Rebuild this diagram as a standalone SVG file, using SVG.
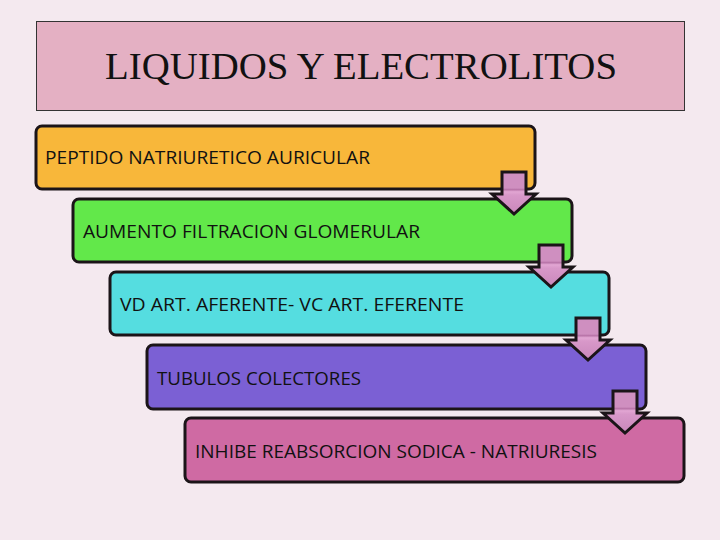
<svg xmlns="http://www.w3.org/2000/svg" width="720" height="540" viewBox="0 0 720 540">
<defs>
<linearGradient id="ag" x1="0" y1="0" x2="0" y2="1">
<stop offset="0" stop-color="#cf8fc0"/>
<stop offset="0.38" stop-color="#cf8fc0"/>
<stop offset="0.42" stop-color="#b874a8"/>
<stop offset="0.47" stop-color="#e2a6d3"/>
<stop offset="0.55" stop-color="#d898c9"/>
<stop offset="1" stop-color="#c987bb"/>
</linearGradient>
<style>
.box{stroke:#1b1418;stroke-width:3}
.lbl{font-family:"Open Sans","Liberation Sans",sans-serif;font-size:18px;fill:#111}
.arr{fill:url(#ag);stroke:#1b1418;stroke-width:3;stroke-linejoin:miter}
</style>
</defs>
<rect width="720" height="540" fill="#f4e9ef"/>
<g id="title">
<rect x="36.5" y="21.5" width="648" height="89" fill="#e4b0c3" stroke="#333" stroke-width="1"/>
<text x="105" y="79" font-family="'Liberation Serif',serif" font-size="38" textLength="512" lengthAdjust="spacingAndGlyphs" fill="#111">LIQUIDOS Y ELECTROLITOS</text>
</g>
<g id="n1">
<rect class="box" x="36" y="126" width="499" height="63" rx="6" fill="#f8b73a"/>
<text class="lbl" x="45" y="164" textLength="325" lengthAdjust="spacingAndGlyphs">PEPTIDO NATRIURETICO AURICULAR</text>
</g>
<g id="n2">
<rect class="box" x="73" y="199" width="499" height="63" rx="6" fill="#62e84a"/>
<text class="lbl" x="83" y="238" textLength="337" lengthAdjust="spacingAndGlyphs">AUMENTO FILTRACION GLOMERULAR</text>
</g>
<g id="n3">
<rect class="box" x="110" y="272" width="499" height="63" rx="6" fill="#55dde0"/>
<text class="lbl" x="120" y="311" textLength="344" lengthAdjust="spacingAndGlyphs">VD ART. AFERENTE- VC ART. EFERENTE</text>
</g>
<g id="n4">
<rect class="box" x="147" y="345" width="499" height="64" rx="6" fill="#7b60d4"/>
<text class="lbl" x="157" y="385" textLength="204" lengthAdjust="spacingAndGlyphs">TUBULOS COLECTORES</text>
</g>
<g id="n5">
<rect class="box" x="185" y="418" width="499" height="64" rx="6" fill="#cf6aa3"/>
<text class="lbl" x="195" y="458" textLength="402" lengthAdjust="spacingAndGlyphs">INHIBE REABSORCION SODICA - NATRIURESIS</text>
</g>
<g id="connectors">
<polygon class="arr" points="502,172 526,172 526,194 536,194 514,214 492,194 502,194"/>
<polygon class="arr" points="539,245 563,245 563,267 573,267 551,287 529,267 539,267"/>
<polygon class="arr" points="576,318 600,318 600,340 610,340 588,360 566,340 576,340"/>
<polygon class="arr" points="613,391 637,391 637,413 647,413 625,433 603,413 613,413"/>
</g>
</svg>
